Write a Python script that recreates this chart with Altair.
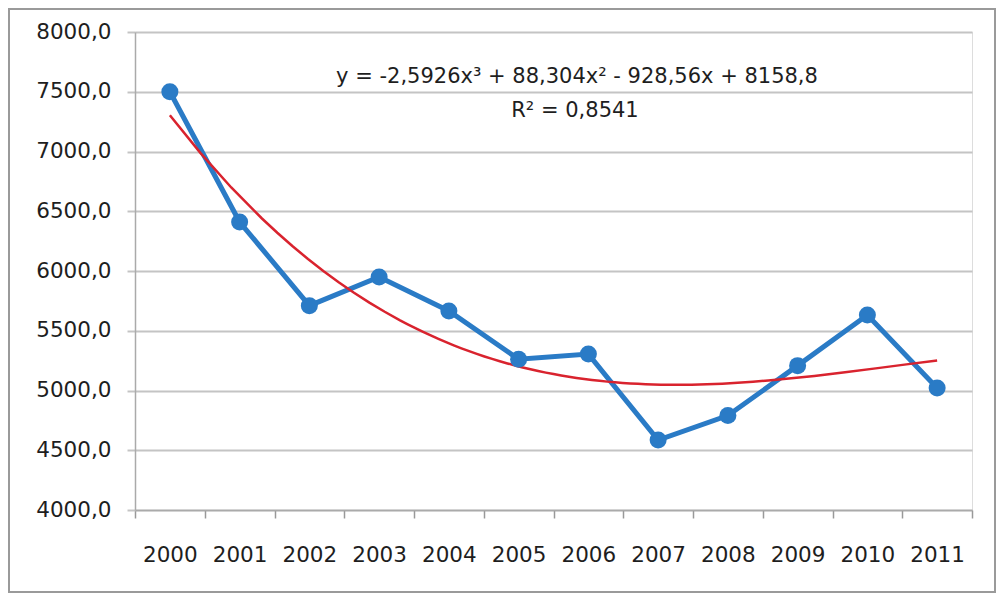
import altair as alt
import pandas as pd

years = [2000, 2001, 2002, 2003, 2004, 2005, 2006, 2007, 2008, 2009, 2010, 2011]
values = [7500.0, 6410.0, 5710.0, 5950.0, 5665.0, 5262.0, 5305.0, 4585.0, 4790.0, 5208.0, 5632.0, 5021.0]
y_ticks = [4000, 4500, 5000, 5500, 6000, 6500, 7000, 7500, 8000]
equation = "y = -2,5926x³ + 88,304x² - 928,56x + 8158,8"
r2_text = "R² = 0,8541"

df = pd.DataFrame({"year": years, "value": values})

W, H = 837, 478
band = W / len(years)
x_bounds = [y - 0.5 for y in years] + [years[-1] + 0.5]
FONT = "DejaVu Sans"

x_scale = alt.Scale(domain=[years[0] - 0.5, years[-1] + 0.5], nice=False, zero=False)
y_scale = alt.Scale(domain=[y_ticks[0], y_ticks[-1]], nice=False, zero=False)

x_axis = alt.Axis(
    values=x_bounds, title=None, grid=False,
    labelExpr="datum.value > %d ? '' : format(datum.value + 0.5, 'd')" % years[-1],
    labelOffset=band / 2, labelFlush=False, labelOverlap=False,
    tickSize=8, tickColor="#999999", tickWidth=1.5,
    domainColor="#aaaaaa", domainWidth=1.5,
    labelFont=FONT, labelFontSize=21.5, labelColor="#1e1e1e", labelPadding=26,
)
y_axis = alt.Axis(
    values=y_ticks, title=None,
    labelExpr="replace(format(datum.value, '.1f'), '.', ',')",
    grid=True, gridColor="#c4c4c4", gridWidth=2,
    tickSize=8, tickColor="#c4c4c4", tickWidth=2,
    domainColor="#aaaaaa", domainWidth=1.5,
    labelFont=FONT, labelFontSize=21.5, labelColor="#1e1e1e", labelPadding=16,
)

base = alt.Chart(df)

line = base.mark_line(color="#2a7bc6", strokeWidth=5).encode(
    x=alt.X("year:Q", scale=x_scale, axis=x_axis),
    y=alt.Y("value:Q", scale=y_scale, axis=y_axis),
)
points = base.mark_circle(color="#2a7bc6", size=290, opacity=1).encode(
    x=alt.X("year:Q", scale=x_scale),
    y=alt.Y("value:Q", scale=y_scale),
)
trend = base.transform_regression(
    "year", "value", method="poly", order=3
).mark_line(color="#d9232e", strokeWidth=2.5).encode(
    x=alt.X("year:Q", scale=x_scale),
    y=alt.Y("value:Q", scale=y_scale),
)

eq = alt.Chart(pd.DataFrame({"t": [equation]})).mark_text(
    font=FONT, fontSize=21, color="#1e1e1e", align="center", baseline="middle"
).encode(x=alt.value(442), y=alt.value(45), text="t:N")
r2 = alt.Chart(pd.DataFrame({"t": [r2_text]})).mark_text(
    font=FONT, fontSize=21, color="#1e1e1e", align="center", baseline="middle"
).encode(x=alt.value(440), y=alt.value(79), text="t:N")

border = alt.Chart(pd.DataFrame({"a": [0]})).mark_rect(
    fill=None, stroke="#9a9a9a", strokeWidth=2
).encode(
    x=alt.value(-126), x2=alt.value(W + 23),
    y=alt.value(-23), y2=alt.value(H + 82),
)

chart = alt.layer(line, trend, points, eq, r2, border).properties(
    width=W, height=H,
    autosize=alt.AutoSizeParams(type="none"),
    padding={"left": 127, "top": 24, "right": 24, "bottom": 84},
).configure_view(stroke=None).configure(background="white")

chart.save("out.html", embed_options={"renderer": "svg", "actions": False})
